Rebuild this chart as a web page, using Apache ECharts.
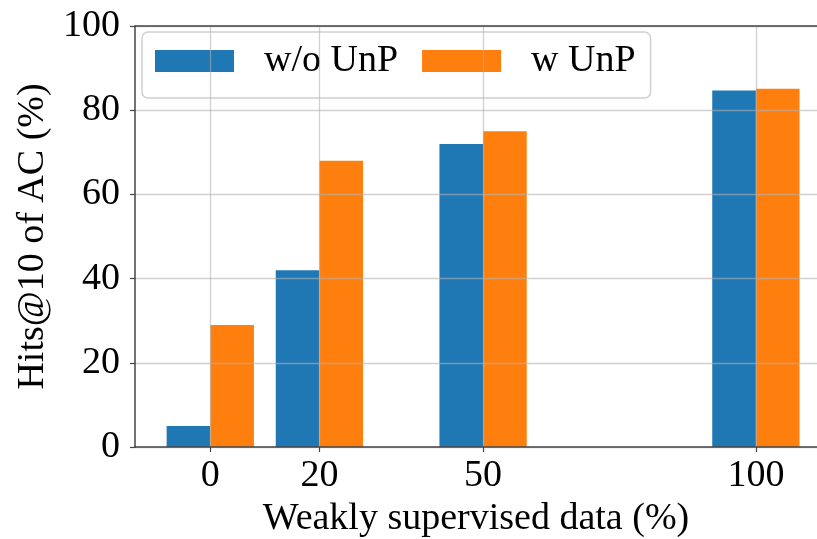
<!DOCTYPE html>
<html>
<head>
<meta charset="utf-8">
<script src="https://cdn.jsdelivr.net/npm/echarts@6/dist/echarts.min.js"></script>
<style>
  html, body { margin: 0; padding: 0; background: #fff; }
  #main { width: 817px; height: 539px; }
</style>
</head>
<body>
<div id="main"></div>
<script>
// amounts of weakly supervised data (%)
const xValues = [0, 20, 50, 100];
const withoutUnP = [5, 42, 72, 84.7];
const withUnP = [29, 68, 75, 85.1];
const yTicks = [0, 20, 40, 60, 80, 100];
const barW = 8; // width of one bar in x units

const font = 'Liberation Serif';
const blue = '#1f77b4';
const orange = '#ff7f0e';
const gridColor = 'rgba(176,176,176,0.6)';
const spine = '#444';
const xMin = -13.8, xMax = 111.2; // right side of the plot is cut off in the original

function barSeries(name, values, color, offset) {
    return {
        name: name,
        type: 'custom',
        itemStyle: {color: color},
        data: xValues.map((x, i) => [x, values[i]]),
        encode: {x: 0, y: 1},
        renderItem: function (params, api) {
            let x = api.value(0), y = api.value(1);
            let p0 = api.coord([x + offset, y]);
            let p1 = api.coord([x + offset + barW, 0]);
            return {
                type: 'rect',
                shape: {x: p0[0], y: p0[1], width: p1[0] - p0[0], height: p1[1] - p0[1]},
                style: {fill: color}
            };
        }
    };
}

let option = {
    animation: false,
    backgroundColor: '#fff',
    textStyle: {fontFamily: font},
    grid: {left: 135, right: 0, top: 26, bottom: 92, outerBoundsMode: 'none', containLabel: false},
    legend: {
        left: 142, top: 32,
        padding: [10, 15, 18, 13],
        itemWidth: 79, itemHeight: 22, itemGap: 24,
        backgroundColor: 'rgba(255,255,255,0.8)',
        borderColor: '#d0d0d0', borderWidth: 1.5, borderRadius: 6,
        textStyle: {fontFamily: font, fontSize: 38, color: '#000', padding: [0, 0, 0, 25]},
        data: [
            {name: 'w/o UnP', icon: 'rect'},
            {name: 'w UnP', icon: 'rect'}
        ]
    },
    xAxis: [{
        type: 'value',
        min: xMin, max: xMax,
        z: 5,
        name: 'Weakly supervised data (%)',
        nameLocation: 'middle', nameGap: 50,
        nameTextStyle: {fontFamily: font, fontSize: 38, color: '#000'},
        axisLine: {show: true, onZero: false, lineStyle: {color: spine, width: 1.5}},
        axisTick: {show: true, length: 5, customValues: xValues, lineStyle: {color: spine, width: 1.2}},
        axisLabel: {customValues: xValues, margin: 10, fontFamily: font, fontSize: 38, color: '#000'},
        splitLine: {show: true, lineStyle: {color: gridColor, width: 1.3}}
    }, {
        // top spine only
        type: 'value',
        position: 'top',
        min: xMin, max: xMax,
        z: 5,
        axisLine: {show: true, onZero: false, lineStyle: {color: spine, width: 1.5}},
        axisTick: {show: false},
        axisLabel: {show: false},
        splitLine: {show: false}
    }],
    yAxis: {
        type: 'value',
        min: yTicks[0], max: yTicks[yTicks.length - 1], interval: 20,
        z: 5,
        name: 'Hits@10 of AC (%)',
        nameLocation: 'middle', nameGap: 75, nameRotate: 90,
        nameTextStyle: {fontFamily: font, fontSize: 38, color: '#000'},
        axisLine: {show: true, onZero: false, lineStyle: {color: spine, width: 1.5}},
        axisTick: {show: true, length: 5, lineStyle: {color: spine, width: 1.2}},
        axisLabel: {margin: 15, fontFamily: font, fontSize: 38, color: '#000'},
        splitLine: {show: true, lineStyle: {color: gridColor, width: 1.3}}
    },
    series: [
        barSeries('w/o UnP', withoutUnP, blue, -barW),
        barSeries('w UnP', withUnP, orange, 0)
    ]
};

let myChart = echarts.init(document.getElementById('main'));
myChart.setOption(option);
</script>
</body>
</html>
